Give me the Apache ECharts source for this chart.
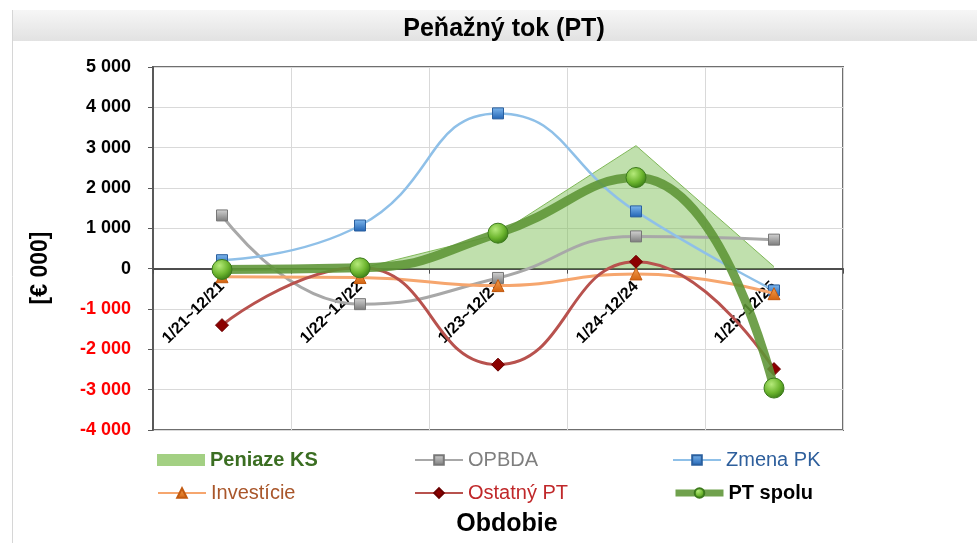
<!DOCTYPE html>
<html>
<head>
<meta charset="utf-8">
<script src="https://cdn.jsdelivr.net/npm/echarts@6/dist/echarts.min.js"></script>
<style>
html,body{margin:0;padding:0;background:#fff;}
#chart{width:977px;height:543px;}
</style>
</head>
<body>
<div id="chart"></div>
<script>
// ---- data ----
var categories = ['1/21~12/21', '1/22~12/22', '1/23~12/23', '1/24~12/24', '1/25~12/25'];
var peniazeKS  = [-50, 0, 850, 3050, 50];
var opbda      = [1320, -880, -230, 800, 720];
var zmenaPK    = [210, 1070, 3850, 1420, -540];
var investicie = [-200, -220, -420, -130, -620];
var ostatnyPT  = [-1400, 30, -2380, 170, -2490];
var ptSpolu    = [-20, 20, 880, 2260, -2960];
var yTicks = {min: -4000, max: 5000, interval: 1000};

var FONT = '"Liberation Sans", Arial, sans-serif';

function fmt(v) {
  v = Number(v);
  var s = String(Math.abs(v)).replace(/\B(?=(\d{3})+(?!\d))/g, ' ');
  return (v < 0 ? '-' : '') + s;
}
function lin(c1, c2) {
  return new echarts.graphic.LinearGradient(0, 0, 0, 1, [{offset: 0, color: c1}, {offset: 1, color: c2}]);
}

var chart = echarts.init(document.getElementById('chart'), null, {renderer: 'canvas'});

var legendRows = [455, 488];
var legendCols = [152, 409, 667];
function mkLegend(name, col, row, color, bold, extra, lineW) {
  var l = {
    data: [extra ? Object.assign({name: name}, extra) : name],
    left: legendCols[col],
    top: legendRows[row] - 12,
    itemWidth: 48,
    itemHeight: 12,
    selectedMode: false,
    textStyle: {color: color, fontSize: 20, fontFamily: FONT, fontWeight: bold ? 'bold' : 'normal', lineHeight: 24}
  };
  if (lineW) l.lineStyle = {width: lineW};
  return l;
}

var option = {
  backgroundColor: '#ffffff',
  animation: false,
  title: [
    {text: 'Peňažný tok (PT)', left: 499, textAlign: 'center', top: 12,
     textStyle: {fontFamily: FONT, fontWeight: 'bold', fontSize: 25, color: '#000'}},
    {text: 'Obdobie', left: 502, textAlign: 'center', top: 507,
     textStyle: {fontFamily: FONT, fontWeight: 'bold', fontSize: 25, color: '#000'}}
  ],
  graphic: [
    {type: 'rect', z: -10, shape: {x: 12, y: 10, width: 965, height: 31},
     style: {fill: lin('#f6f6f6', '#e2e2e2')}},
    {type: 'line', z: -10, shape: {x1: 12.5, y1: 10, x2: 12.5, y2: 543},
     style: {stroke: '#d6d6d6', lineWidth: 1}},
    {type: 'text', x: 41, y: 268, rotation: Math.PI / 2,
     style: {text: '[€ 000]', align: 'center', verticalAlign: 'middle',
             font: 'bold 23px "Liberation Sans", Arial, sans-serif', fill: '#000'}}
  ],
  legend: [
    mkLegend('Peniaze KS', 0, 0, '#3b6e22', true, {icon: 'rect', itemStyle: {color: '#a3d083'}}),
    mkLegend('OPBDA', 1, 0, '#7f7f7f', false),
    mkLegend('Zmena PK', 2, 0, '#2e5f9c', false),
    mkLegend('Investície', 0, 1, '#a9562a', false),
    mkLegend('Ostatný PT', 1, 1, '#c0282a', false),
    mkLegend('PT spolu', 2, 1, '#000000', true, null, 7)
  ],
  grid: {left: 153, right: 134, top: 67, bottom: 113, show: true,
         borderColor: '#6f6f6f', borderWidth: 2, backgroundColor: '#fff'},
  xAxis: {
    type: 'category',
    data: categories,
    boundaryGap: true,
    axisLine: {onZero: true, lineStyle: {color: '#4d4d4d', width: 2}},
    axisTick: {show: true, length: 5, lineStyle: {color: '#4d4d4d'}},
    axisLabel: {rotate: 45, margin: -146, color: '#000', fontFamily: FONT, fontWeight: 'bold', fontSize: 16},
    splitLine: {show: true, lineStyle: {color: '#d9d9d9', width: 1}}
  },
  yAxis: {
    type: 'value',
    min: yTicks.min, max: yTicks.max, interval: yTicks.interval,
    axisLine: {show: true, lineStyle: {color: '#595959', width: 2}},
    axisTick: {show: true, length: 5, lineStyle: {color: '#595959'}},
    axisLabel: {
      margin: 22,
      formatter: fmt,
      fontFamily: FONT, fontWeight: 'bold', fontSize: 18,
      color: function (v) { return Number(v) < 0 ? '#ff0000' : '#000000'; }
    },
    splitLine: {show: true, lineStyle: {color: '#d9d9d9', width: 1}}
  },
  series: [
    {
      name: 'Peniaze KS', type: 'line', data: peniazeKS,
      symbol: 'none', smooth: false,
      itemStyle: {color: '#a3d083'},
      lineStyle: {color: '#7fb857', width: 1},
      areaStyle: {color: 'rgba(122,190,82,0.68)'},
      z: 1
    },
    {
      name: 'OPBDA', type: 'line', data: opbda, smooth: true,
      symbol: 'rect', symbolSize: 11,
      itemStyle: {color: lin('#d4d4d4', '#7a7a7a'), borderColor: '#777', borderWidth: 1},
      lineStyle: {color: '#a8a8a8', width: 3},
      z: 2
    },
    {
      name: 'Zmena PK', type: 'line', data: zmenaPK, smooth: true,
      symbol: 'rect', symbolSize: 11,
      itemStyle: {color: lin('#7fb8ee', '#1f62b3'), borderColor: '#2a5f9e', borderWidth: 1},
      lineStyle: {color: '#8fc0e8', width: 2.5},
      z: 3
    },
    {
      name: 'Investície', type: 'line', data: investicie, smooth: true,
      symbol: 'triangle', symbolSize: 12,
      itemStyle: {color: lin('#f5a050', '#d2620f'), borderColor: '#c25a10', borderWidth: 1},
      lineStyle: {color: '#f6a66e', width: 3},
      z: 4
    },
    {
      name: 'Ostatný PT', type: 'line', data: ostatnyPT, smooth: true,
      symbol: 'diamond', symbolSize: 13,
      itemStyle: {color: '#8b0000', borderColor: '#6a0000', borderWidth: 1},
      lineStyle: {color: '#b8524e', width: 3},
      z: 5
    },
    {
      name: 'PT spolu', type: 'line', data: ptSpolu, smooth: true,
      symbol: 'circle', symbolSize: 20,
      itemStyle: {
        color: new echarts.graphic.RadialGradient(0.38, 0.32, 0.7, [
          {offset: 0, color: '#b5ea7a'}, {offset: 0.6, color: '#6cb52e'}, {offset: 1, color: '#3a7d16'}
        ]),
        borderColor: '#3c7a1c', borderWidth: 1
      },
      lineStyle: {color: 'rgba(92,148,52,0.88)', width: 9},
      z: 6
    }
  ]
};
chart.setOption(option);
</script>
</body>
</html>
